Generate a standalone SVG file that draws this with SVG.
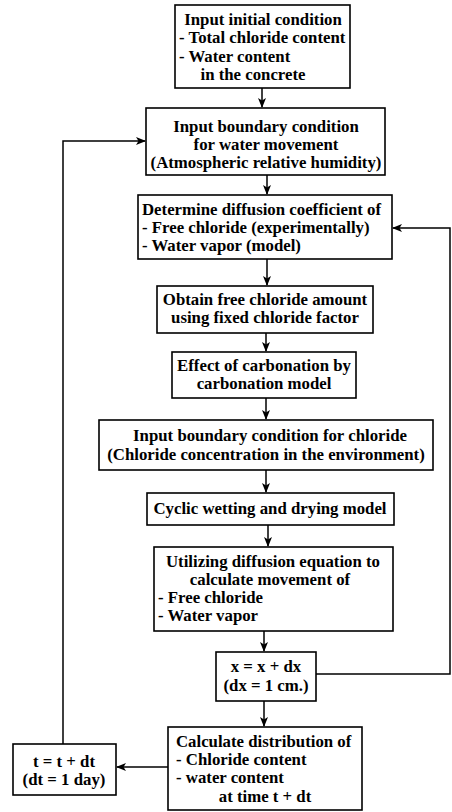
<svg xmlns="http://www.w3.org/2000/svg" width="452" height="812" viewBox="0 0 452 812">
<style>
.box{fill:#fff;stroke:#000;stroke-width:1.6}
.t{font-family:"Liberation Serif",serif;font-weight:bold;font-size:16.8px;fill:#000}
.c{text-anchor:middle}
.ln{fill:none;stroke:#000;stroke-width:1.5}
</style>
<defs>
<marker id="ah" markerWidth="10" markerHeight="8" refX="9" refY="4" orient="auto" markerUnits="userSpaceOnUse">
<path d="M0,0 L10,4 L0,8 L2.5,4 Z" fill="#000"/>
</marker>
</defs>
<rect width="452" height="812" fill="#fff"/>
<g id="connectors">
<line class="ln" x1="262" y1="88" x2="262" y2="107" marker-end="url(#ah)"/>
<line class="ln" x1="267" y1="175" x2="267" y2="194" marker-end="url(#ah)"/>
<line class="ln" x1="267" y1="259" x2="267" y2="285" marker-end="url(#ah)"/>
<line class="ln" x1="266" y1="333" x2="266" y2="351" marker-end="url(#ah)"/>
<line class="ln" x1="266" y1="398" x2="266" y2="419" marker-end="url(#ah)"/>
<line class="ln" x1="266" y1="470" x2="266" y2="492" marker-end="url(#ah)"/>
<line class="ln" x1="268" y1="525" x2="268" y2="546" marker-end="url(#ah)"/>
<line class="ln" x1="264" y1="631" x2="264" y2="651" marker-end="url(#ah)"/>
<line class="ln" x1="264" y1="701" x2="264" y2="726" marker-end="url(#ah)"/>
<polyline class="ln" points="316,674 450,674 450,228 393,228" marker-end="url(#ah)"/>
<line class="ln" x1="168" y1="767" x2="117" y2="767" marker-end="url(#ah)"/>
<polyline class="ln" points="63,744 63,141 145,141" marker-end="url(#ah)"/>
</g>
<g id="n1">
<rect class="box" x="175" y="5" width="175" height="83"/>
<text class="t c" x="263" y="25">Input initial condition</text>
<text class="t" x="179" y="43">- Total chloride content</text>
<text class="t" x="179" y="62">- Water content</text>
<text class="t c" x="253" y="80">in the concrete</text>
</g>
<g id="n2">
<rect class="box" x="146" y="108" width="239" height="67"/>
<text class="t c" x="266" y="132">Input boundary condition</text>
<text class="t c" x="266" y="150">for water movement</text>
<text class="t c" x="266" y="168">(Atmospheric relative humidity)</text>
</g>
<g id="n3">
<rect class="box" x="138" y="195" width="254" height="64"/>
<text class="t" x="142" y="215">Determine diffusion coefficient of</text>
<text class="t" x="142" y="233">- Free chloride (experimentally)</text>
<text class="t" x="142" y="251">- Water vapor (model)</text>
</g>
<g id="n4">
<rect class="box" x="157" y="286" width="216" height="47"/>
<text class="t c" x="265" y="305">Obtain free chloride amount</text>
<text class="t c" x="265" y="323">using fixed chloride factor</text>
</g>
<g id="n5">
<rect class="box" x="172" y="352" width="184" height="46"/>
<text class="t c" x="264" y="371">Effect of carbonation by</text>
<text class="t c" x="264" y="389">carbonation model</text>
</g>
<g id="n6">
<rect class="box" x="99" y="420" width="334" height="50"/>
<text class="t c" x="270" y="441">Input boundary condition for chloride</text>
<text class="t c" x="266" y="460">(Chloride concentration in the environment)</text>
</g>
<g id="n7">
<rect class="box" x="147" y="493" width="247" height="32"/>
<text class="t c" x="270" y="514">Cyclic wetting and drying model</text>
</g>
<g id="n8">
<rect class="box" x="154" y="547" width="239" height="84"/>
<text class="t c" x="273" y="567">Utilizing diffusion equation to</text>
<text class="t c" x="270" y="585">calculate movement of</text>
<text class="t" x="158" y="603">- Free chloride</text>
<text class="t" x="158" y="621">- Water vapor</text>
</g>
<g id="n9">
<rect class="box" x="216" y="652" width="100" height="49"/>
<text class="t c" x="266" y="672">x = x + dx</text>
<text class="t c" x="266" y="691">(dx = 1 cm.)</text>
</g>
<g id="n10">
<rect class="box" x="168" y="727" width="194" height="83"/>
<text class="t" x="176" y="747">Calculate distribution of</text>
<text class="t" x="176" y="765">- Chloride content</text>
<text class="t" x="176" y="783">- water content</text>
<text class="t c" x="265" y="802">at time  t + dt</text>
</g>
<g id="n11">
<rect class="box" x="13" y="744" width="103" height="51"/>
<text class="t c" x="64" y="767">t = t + dt</text>
<text class="t c" x="64" y="785">(dt = 1 day)</text>
</g>
</svg>
